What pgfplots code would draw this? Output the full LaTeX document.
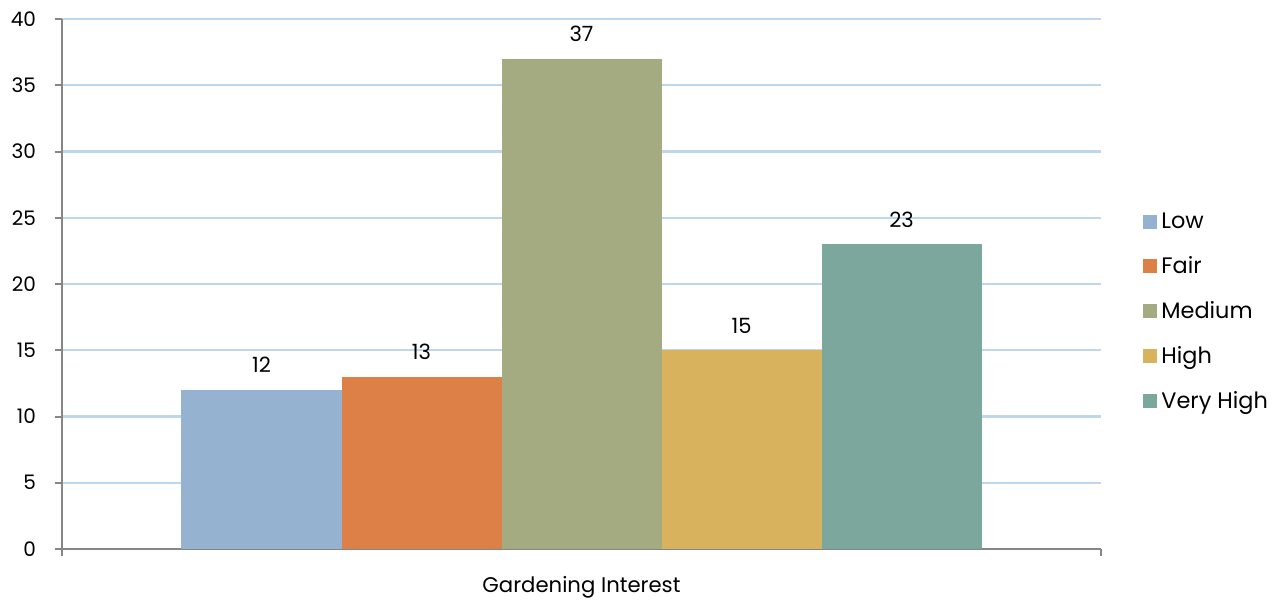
\documentclass[border=0pt]{standalone}
\usepackage{fontspec}
\setmainfont{Poppins}
\usepackage{pgfplots}
\pgfplotsset{compat=1.18}
\definecolor{cLow}{HTML}{95B3D1}
\definecolor{cFair}{HTML}{DD8047}
\definecolor{cMed}{HTML}{A5AB81}
\definecolor{cHigh}{HTML}{D8B25C}
\definecolor{cVH}{HTML}{7BA79D}
\definecolor{gridblue}{HTML}{BDD7EE}
\definecolor{axisgray}{HTML}{868686}
\begin{document}
\begin{tikzpicture}[font=\fontsize{10pt}{12pt}\selectfont]
\begin{axis}[
  name=ax,
  at={(0,0)}, anchor=south west,
  scale only axis,
  width=519.5pt, height=265pt,
  xmin=-1, xmax=1, ymin=0, ymax=40,
  ybar=0pt, bar width=80pt,
  xtick={-1,1}, xticklabels={,},
  ytick={0,5,...,40},
  tick align=outside,
  major tick length=3.5pt,
  tick style={axisgray, line width=1pt},
  axis x line*=bottom, axis y line*=left,
  axis line style={axisgray, line width=1.3pt},
  ymajorgrids, xmajorgrids=false,
  y grid style={gridblue, line width=1.1pt},
  /pgf/number format/assume math mode=true,
  yticklabel style={font=\fontsize{10pt}{12pt}\selectfont, xshift=-6pt},
  nodes near coords,
  nodes near coords style={font=\fontsize{10.5pt}{12pt}\selectfont, yshift=5pt},
  legend style={draw=none, fill=none, at={(1,0.447)}, anchor=west, xshift=18pt,
    row sep=8.5pt, font=\fontsize{11.2pt}{13pt}\selectfont, cells={anchor=west}},
  legend image code/.code={\fill[#1,draw=none] (0pt,-3.5pt) rectangle (7pt,3.5pt);},
  clip=false,
]
\addplot[fill=cLow, draw=none] coordinates {(0,12)};
\addplot[fill=cFair, draw=none] coordinates {(0,13)};
\addplot[fill=cMed, draw=none] coordinates {(0,37)};
\addplot[fill=cHigh, draw=none] coordinates {(0,15)};
\addplot[fill=cVH, draw=none] coordinates {(0,23)};
\legend{Low,Fair,Medium,High,Very High}
\node[font=\fontsize{10.6pt}{12pt}\selectfont] at (axis cs:0,0) [yshift=-19pt] {Gardening Interest};
\end{axis}
\pgfresetboundingbox
\path (ax.south west) ++(-31pt,-26.5pt) rectangle ++(641.5pt,301pt);
\end{tikzpicture}
\end{document}
